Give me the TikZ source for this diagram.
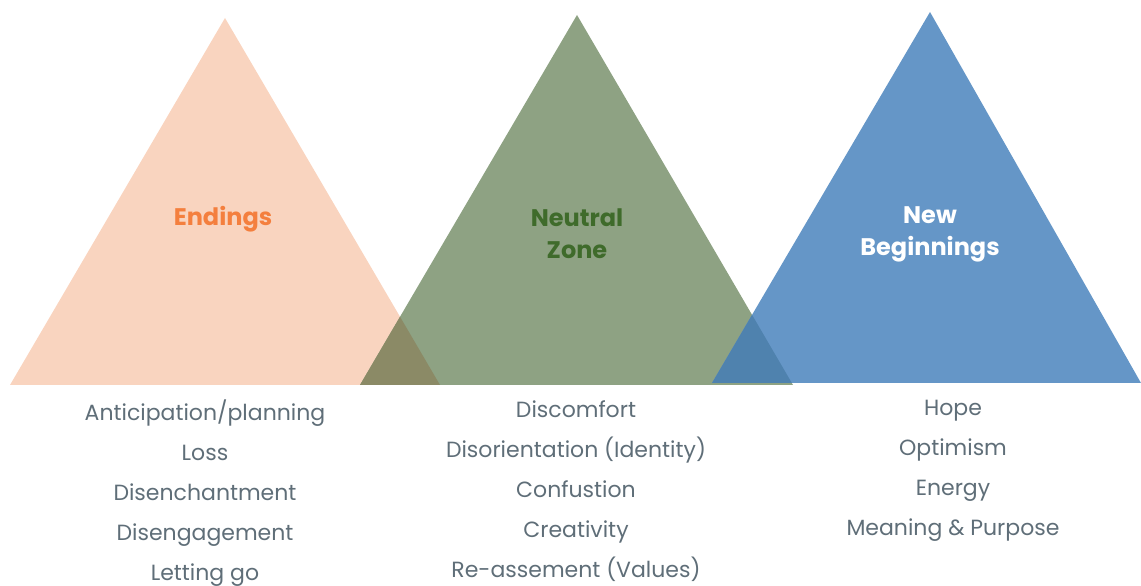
\documentclass[tikz,border=0pt]{standalone}
\usepackage{fontspec}
\setmainfont{Poppins}
\definecolor{peach}{HTML}{F9D4BF}
\definecolor{sage}{HTML}{8EA283}
\definecolor{steel}{HTML}{6596C7}
\definecolor{olive}{HTML}{8B8A66}
\definecolor{deepblue}{HTML}{4F82AE}
\definecolor{endorange}{HTML}{F47F3E}
\definecolor{zonegreen}{HTML}{3F6B2B}
\definecolor{listgray}{HTML}{5F6E78}
\tikzset{
  title/.style={font=\fontsize{24}{32}\selectfont\bfseries, align=center, inner sep=0pt},
  items/.style={font=\fontsize{22}{40}\selectfont, text=listgray, align=center, anchor=north, inner sep=0pt}
}
\begin{document}
\begin{tikzpicture}[x=1pt,y=1pt]
            \useasboundingbox (0,0) rectangle (1141,586);
            % corners of the three triangles
            \coordinate (eL) at (10,201);
            \coordinate (eT) at (225,568);
            \coordinate (eR) at (440,201);
            \coordinate (nL) at (360,201);
            \coordinate (nT) at (577,571);
            \coordinate (nR) at (793,201);
            \coordinate (bL) at (712,203);
            \coordinate (bT) at (930,574);
            \coordinate (bR) at (1141,203);

            \fill[peach] (eL) -- (eT) -- (eR) -- cycle;
            \fill[sage] (nL) -- (nT) -- (nR) -- cycle;
            \fill[steel] (bL) -- (bT) -- (bR) -- cycle;

            % the overlaps are darker
            \begin{scope}
                \clip (eL) -- (eT) -- (eR) -- cycle;
                \fill[olive] (nL) -- (nT) -- (nR) -- cycle;
            \end{scope}
            \begin{scope}
                \clip (nL) -- (nT) -- (nR) -- cycle;
                \fill[deepblue] (bL) -- (bT) -- (bR) -- cycle;
            \end{scope}

            \node[title, text=endorange] (endings) at (223,367) {Endings};
            \node[title, text=zonegreen] (neutral) at (577,352) {Neutral\\Zone};
            \node[title, text=white] (newbeg) at (930,352) {New\\Beginnings};

            \node[items] (endlist) at (205,186) {Anticipation/planning\\Loss\\Disenchantment\\Disengagement\\Letting go};
            \node[items] (neutlist) at (576,186) {Discomfort\\Disorientation (Identity)\\Confustion\\Creativity\\Re-assement (Values)};
            \node[items] (newlist) at (953,186) {Hope\\Optimism\\Energy\\Meaning \& Purpose};
\end{tikzpicture}
\end{document}
